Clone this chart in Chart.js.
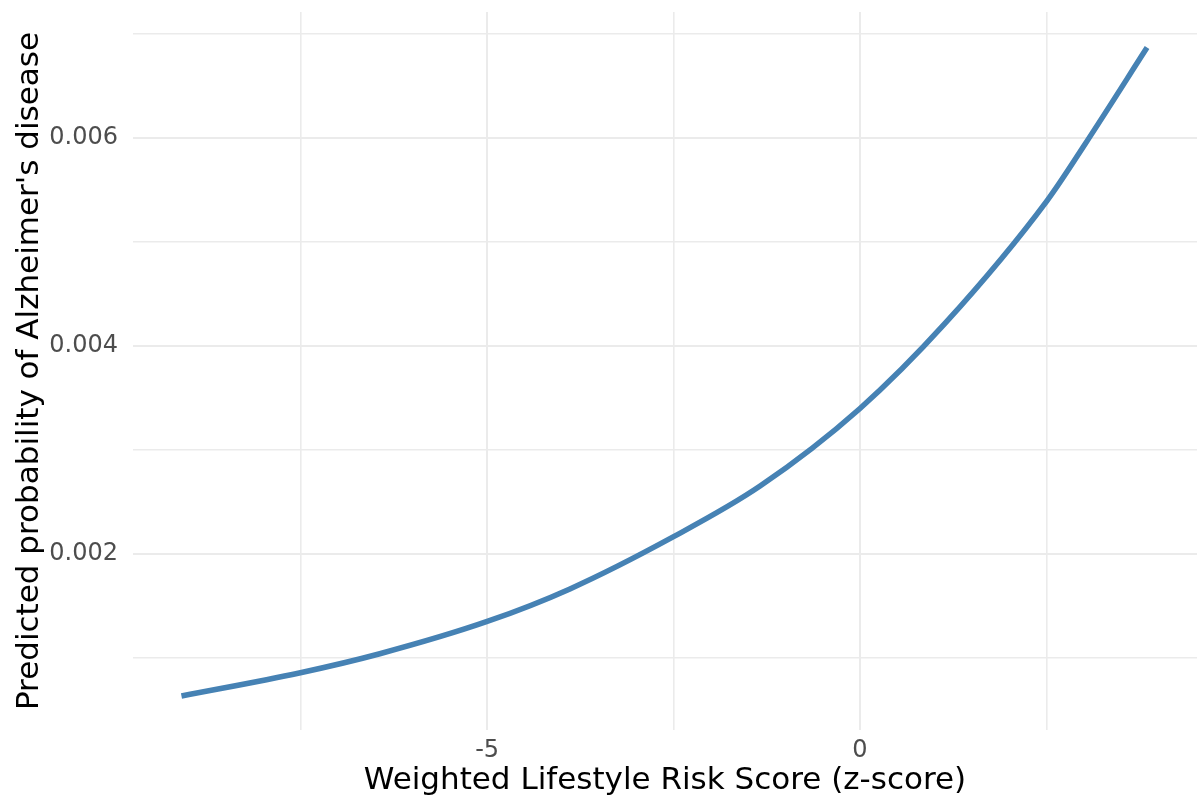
<!DOCTYPE html>
<html>
<head>
<meta charset="utf-8">
<title>Predicted probability of Alzheimer's disease</title>
<script src="https://cdn.jsdelivr.net/npm/chart.js"></script>
<style>
  html, body { margin: 0; padding: 0; background: #fff; }
  #wrap { width: 1201px; height: 807px; }
</style>
</head>
<body>
<div id="wrap"><canvas id="riskChart" width="1201" height="807"></canvas></div>
<script>
// fitted curve, read along the score range
var xScore = [-9.10, -7.52, -6.44, -5.0, -3.89, -2.5, -1.34, 0, 1.14, 2.51, 3.02, 3.85];
var probAD = [0.000635, 0.000856, 0.001041, 0.001351, 0.001664, 0.002166, 0.002652, 0.003398, 0.004215, 0.005396, 0.005940, 0.006866];

// grid breaks (major ones get a label)
var xBreaks = [-7.5, -5, -2.5, 0, 2.5];
var xLabels = [-5, 0];
var yBreaks = [0.001, 0.002, 0.003, 0.004, 0.005, 0.006, 0.007];
var yLabels = [0.002, 0.004, 0.006];

var gridColor = '#ebebeb';
var fontFamily = "'DejaVu Sans', sans-serif";

var points = xScore.map(function(x, i) {
  return { x: x, y: probAD[i] };
});

var isMajor = function(list, v) {
  return list.some(function(m) { return Math.abs(m - v) < 1e-9; });
};

var ctx = document.getElementById('riskChart').getContext('2d');
var chart = new Chart(ctx, {
  type: 'line',
  data: {
    datasets: [{
      data: points,
      borderColor: '#4682b4',
      borderWidth: 5.5,
      pointRadius: 0,
      fill: false,
      cubicInterpolationMode: 'monotone',
      borderCapStyle: 'butt'
    }]
  },
  options: {
    responsive: false,
    animation: false,
    layout: { padding: { top: 12, right: 4, left: 0, bottom: 0 } },
    plugins: {
      legend: { display: false },
      tooltip: { enabled: false }
    },
    scales: {
      x: {
        type: 'linear',
        min: -9.75,
        max: 4.52,
        afterBuildTicks: function(scale) {
          scale.ticks = xBreaks.map(function(v) { return { value: v }; });
        },
        afterFit: function(scale) {
          scale.height = 77;
          scale.paddingLeft = 0;
          scale.paddingRight = 0;
        },
        border: { display: false },
        grid: {
          color: gridColor,
          drawTicks: false,
          lineWidth: function(c) { return c.tick && isMajor(xLabels, c.tick.value) ? 2 : 1.6; }
        },
        ticks: {
          autoSkip: false,
          maxRotation: 0,
          padding: 6,
          color: '#4d4d4d',
          font: { family: fontFamily, size: 24 },
          callback: function(v) { return isMajor(xLabels, v) ? String(v) : ''; }
        },
        title: {
          display: true,
          text: 'Weighted Lifestyle Risk Score (z-score)',
          color: '#000',
          font: { family: fontFamily, size: 31 },
          padding: { top: 0, bottom: 7 }
        }
      },
      y: {
        type: 'linear',
        min: 0.000308,
        max: 0.007208,
        afterBuildTicks: function(scale) {
          scale.ticks = yBreaks.map(function(v) { return { value: v }; });
        },
        afterFit: function(scale) {
          scale.width = 133;
          scale.paddingTop = 0;
          scale.paddingBottom = 0;
        },
        border: { display: false },
        grid: {
          color: gridColor,
          drawTicks: false,
          lineWidth: function(c) { return c.tick && isMajor(yLabels, c.tick.value) ? 2 : 1.6; }
        },
        ticks: {
          autoSkip: false,
          padding: 15,
          color: '#4d4d4d',
          font: { family: fontFamily, size: 24 },
          callback: function(v) { return isMajor(yLabels, v) ? v.toFixed(3) : ''; }
        },
        title: {
          display: true,
          text: "Predicted probability of Alzheimer's disease",
          color: '#000',
          font: { family: fontFamily, size: 31 },
          padding: { top: 11, bottom: 0 }
        }
      }
    }
  }
});
</script>
</body>
</html>
